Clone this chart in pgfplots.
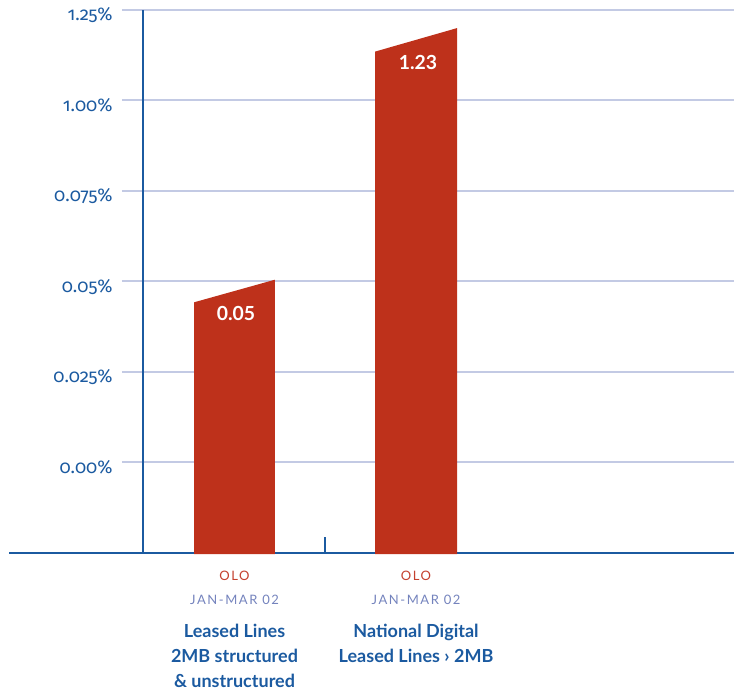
\documentclass[border=0pt]{standalone}
\usepackage{pgfplots}
\pgfplotsset{compat=1.18}
\usepackage{fontspec}
\setmainfont{Lato}
\newfontfamily\tickfont[Numbers=OldStyle]{Fira Sans}
\newfontfamily\spaced[LetterSpace=12]{Lato}
\definecolor{axblue}{HTML}{1B5AA0}
\definecolor{gridc}{HTML}{C3CAE4}
\definecolor{barred}{HTML}{BE311B}
\definecolor{olored}{HTML}{C4402E}
\definecolor{janc}{HTML}{7483BD}
\tikzset{
  olo/.style={anchor=base, inner sep=0pt, text=olored, font=\spaced\fontsize{6.5}{8}\selectfont},
  jan/.style={anchor=base, inner sep=0pt, text=janc, font=\spaced\fontsize{6.5}{8}\selectfont},
  cat/.style={anchor=base, inner sep=0pt, text=axblue, font=\bfseries\fontsize{9}{11}\selectfont},
  val/.style={text=white, font=\bfseries\fontsize{9.7}{11}\selectfont},
}
\begin{document}
\begin{tikzpicture}[x=1pt,y=1pt]
\useasboundingbox (-61,-71) rectangle (306,276.5);
\begin{axis}[at={(0,0)}, anchor=south west, scale only axis,
  width=306pt, height=271.5pt,
  xmin=0.38, xmax=3.752, ymin=0, ymax=6,
  clip=false,
  axis line style={draw=none},
  major tick length=0pt,
  xtick=\empty,
  ytick={1,2,3,4,5,6},
  yticklabels={0.00\%,0.025\%,0.05\%,0.075\%,1.00\%,1.25\%},
  yticklabel style={anchor=base east, inner sep=0pt, xshift=-4.5pt, yshift=-5.5pt,
    text=axblue, font=\tickfont\fontsize{9.2}{10}\selectfont},
  ymajorgrids, grid style={gridc, line width=1pt},
]
% axis lines (under the bars)
\draw[axblue, line width=1pt] (axis cs:-0.2424,0) -- (axis cs:3.752,0);
\draw[axblue, line width=1pt] (axis cs:0.496,0) -- (axis cs:0.496,6);
\draw[axblue, line width=0.8pt] (axis cs:1.5,0) -- (axis cs:1.5,0.177);
% bars with slanted tops
\addplot[fill=barred, draw=none] coordinates {(0.777,-0.012) (0.777,2.77) (1.223,3.02) (1.223,-0.012)} -- cycle;
\addplot[fill=barred, draw=none] coordinates {(1.774,-0.012) (1.774,5.54) (2.226,5.80) (2.226,-0.012)} -- cycle;
% value labels
\node[val] at (axis cs:1.008,2.65) {0.05};
\node[val] at (axis cs:2.011,5.425) {1.23};
% category labels
\node[olo] at (axis cs:1,0) [yshift=-14pt] {OLO};
\node[jan] at (axis cs:1,0) [yshift=-26pt] {JAN-MAR 02};
\node[cat] at (axis cs:1,0) [yshift=-42.5pt] {Leased Lines};
\node[cat] at (axis cs:1,0) [yshift=-55pt] {2MB structured};
\node[cat] at (axis cs:1,0) [yshift=-67.5pt] {\& unstructured};
\node[olo] at (axis cs:2,0) [yshift=-14pt] {OLO};
\node[jan] at (axis cs:2,0) [yshift=-26pt] {JAN-MAR 02};
\node[cat] at (axis cs:2,0) [yshift=-42.5pt] {National Digital};
\node[cat] at (axis cs:2,0) [yshift=-55pt] {Leased Lines › 2MB};
\end{axis}
\end{tikzpicture}
\end{document}
